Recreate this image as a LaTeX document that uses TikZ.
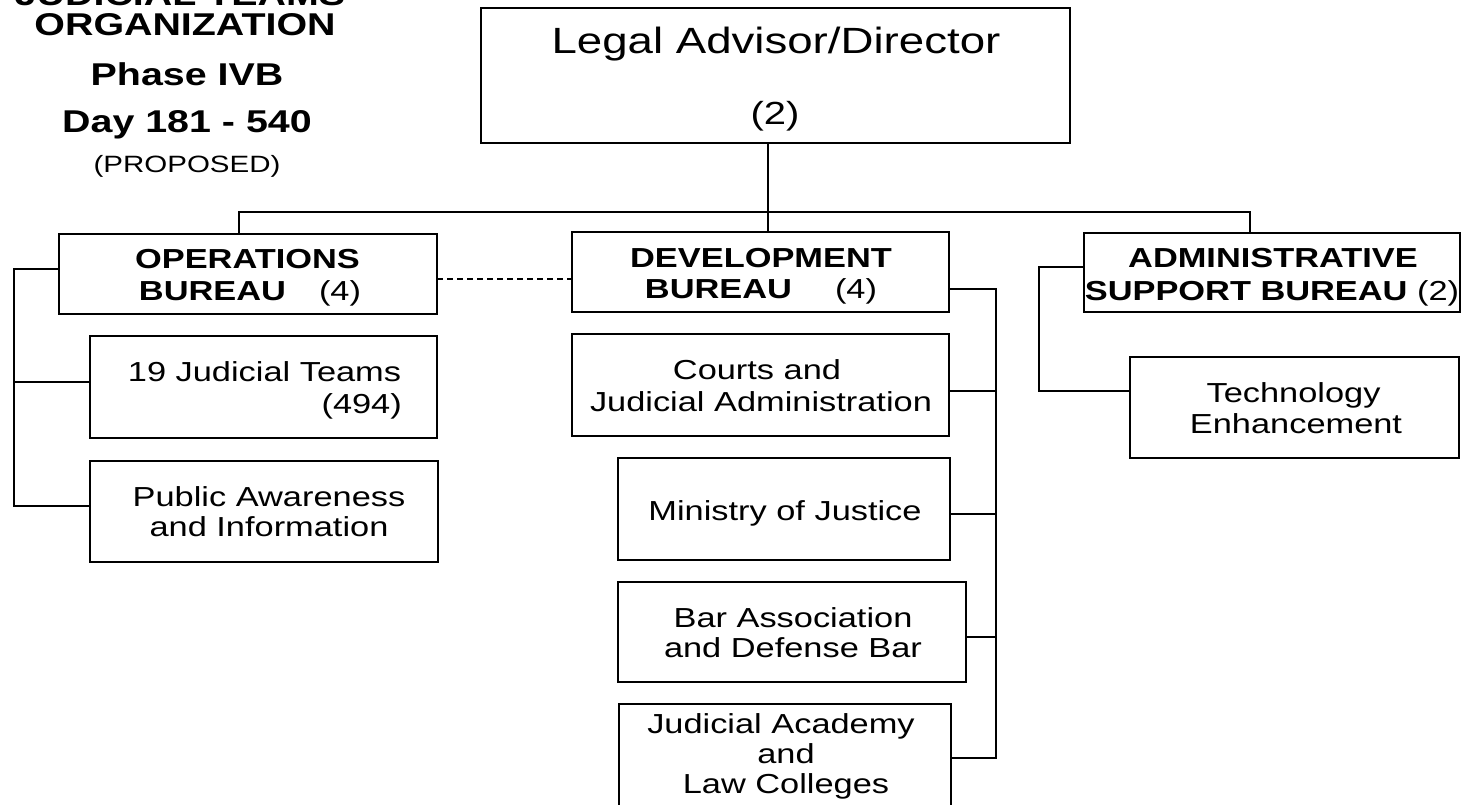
\documentclass[tikz,border=0pt]{standalone}
\usepackage{fontspec}
\setmainfont{Liberation Sans}[FakeStretch=1.25]
\usetikzlibrary{fit}
\begin{document}
\begin{tikzpicture}[x=1pt,y=-1pt,
  box/.style={draw, line width=1.5pt, inner sep=0pt, outer sep=0pt},
  conn/.style={line width=1.4pt},
  lbl/.style={inner sep=0pt, anchor=base, font=\fontsize{27.5}{30}\selectfont},
  blbl/.style={lbl, font=\fontsize{27.5}{30}\selectfont\bfseries},
  ttl/.style={inner sep=0pt, anchor=base, font=\fontsize{31.5}{34}\selectfont\bfseries}]
\useasboundingbox (0,0) rectangle (1464,804);
% title
\node[ttl] (ti1) at (180,5) {JUDICIAL TEAMS};
\node[ttl] (ti2) at (185,35) {ORGANIZATION};
\node[ttl] (ti3) at (187,85) {Phase IVB};
\node[ttl] (ti4) at (187,132) {Day 181 - 540};
\node[lbl, font=\fontsize{23.6}{26}\selectfont] (ti5) at (187,172) {(PROPOSED)};
% boxes
\node[box, fit={(481,8) (1070,143)}] (top) {};
\node[box, fit={(59,234) (437,314)}] (ops) {};
\node[box, fit={(572,232) (949,312)}] (dev) {};
\node[box, fit={(1084,233) (1460,312)}] (adm) {};
\node[box, fit={(90,336) (437,438)}] (jt) {};
\node[box, fit={(90,461) (438,562)}] (pa) {};
\node[box, fit={(572,334) (949,436)}] (ct) {};
\node[box, fit={(618,458) (950,560)}] (mj) {};
\node[box, fit={(618,582) (966,682)}] (ba) {};
\node[box, fit={(619,704) (951,812)}] (ja) {};
\node[box, fit={(1130,357) (1459,458)}] (te) {};
% texts
\node[lbl, font=\fontsize{36.5}{40}\selectfont] (topa) at (776,53) {Legal Advisor/Director};
\node[lbl, font=\fontsize{32}{36}\selectfont] (topb) at (775,124) {(2)};
\node[blbl] (opsa) at (247.5,268) {OPERATIONS};
\node[blbl] (opsb) at (250,300) {BUREAU\hspace{33pt}\mdseries(4)};
\node[blbl] (deva) at (761,267) {DEVELOPMENT};
\node[blbl] (devb) at (761,298) {BUREAU\hspace{43pt}\mdseries(4)};
\node[blbl] (adma) at (1273,267) {ADMINISTRATIVE};
\node[blbl] (admb) at (1272,300) {SUPPORT BUREAU \mdseries(2)};
\node[lbl] (jta) at (264.5,381) {19 Judicial Teams};
\node[lbl, anchor=base east] (jtb) at (402,413) {(494)};
\node[lbl] (paa) at (269,506) {Public Awareness};
\node[lbl] (pab) at (269,536) {and Information};
\node[lbl] (cta) at (757,379) {Courts and};
\node[lbl] (ctb) at (761,411) {Judicial Administration};
\node[lbl] (mja) at (785,520) {Ministry of Justice};
\node[lbl] (baa) at (793,627) {Bar Association};
\node[lbl] (bab) at (793,657) {and Defense Bar};
\node[lbl] (jaa) at (781,733) {Judicial Academy};
\node[lbl] (jab) at (786,763) {and};
\node[lbl] (jac) at (786,793) {Law Colleges};
\node[lbl] (tea) at (1293.5,402) {Technology};
\node[lbl] (teb) at (1296,433) {Enhancement};
% helper coordinates
\coordinate (bl) at (239,212);
\coordinate (bm) at (768,212);
\coordinate (br) at (1250,212);
\coordinate (dash) at (500,279);
\coordinate (lb1) at (14,269);
\coordinate (lb2) at (14,382);
\coordinate (lb3) at (14,506);
\coordinate (rb1) at (996,289);
\coordinate (rb2) at (996,391);
\coordinate (rb3) at (996,514);
\coordinate (rb4) at (996,637);
\coordinate (rb5) at (996,758);
\coordinate (ab1) at (1039,267);
\coordinate (ab2) at (1039,391);
% connectors
\draw[conn] (top.south -| bm) -- (dev.north -| bm);
\draw[conn] (ops.north -| bl) -- (bl) -- (br) -- (adm.north -| br);
\draw[conn, dash pattern=on 6pt off 4pt] (ops.east |- dash) -- (dev.west |- dash);
\draw[conn] (ops.west |- lb1) -- (lb1) -- (lb3) -- (pa.west |- lb3);
\draw[conn] (lb2) -- (jt.west |- lb2);
\draw[conn] (dev.east |- rb1) -- (rb1) -- (rb5) -- (ja.east |- rb5);
\draw[conn] (rb2) -- (ct.east |- rb2);
\draw[conn] (rb3) -- (mj.east |- rb3);
\draw[conn] (rb4) -- (ba.east |- rb4);
\draw[conn] (adm.west |- ab1) -- (ab1) -- (ab2) -- (te.west |- ab2);
\end{tikzpicture}
\end{document}
